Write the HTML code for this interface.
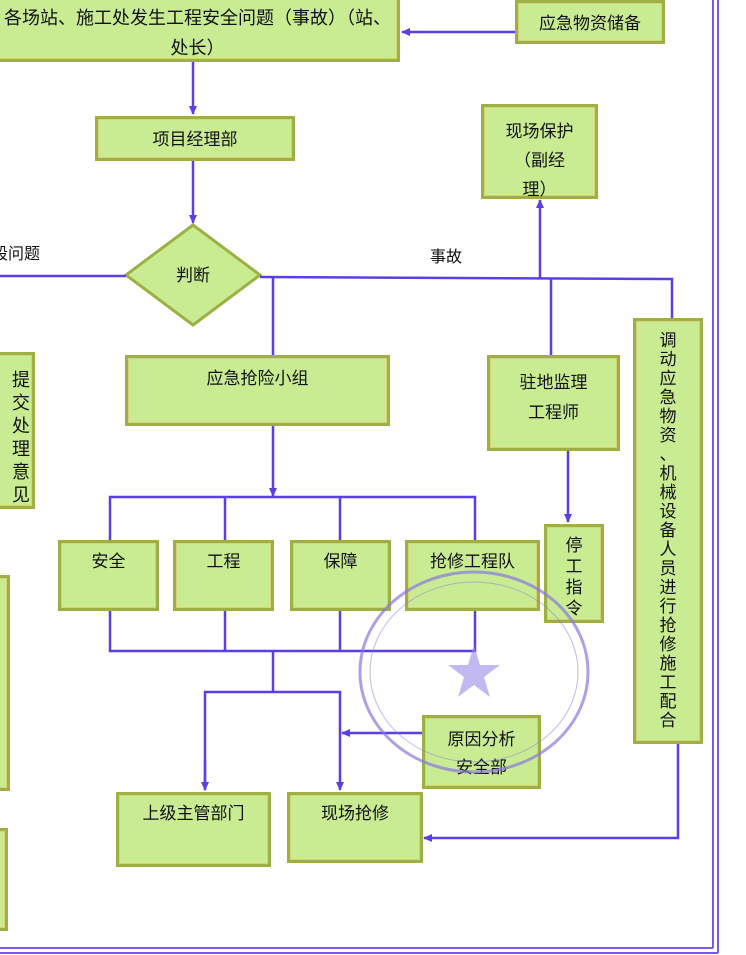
<!DOCTYPE html>
<html><head><meta charset="utf-8"><style>
body{margin:0;width:746px;height:955px;background:#fff;position:relative;overflow:hidden;font-family:"Liberation Sans","Noto Sans CJK SC",sans-serif;}
.b{position:absolute;background:#c9ec93;border:3px solid #9db043;box-sizing:border-box;box-shadow:inset 0 0 0 1px #d9d27a;color:#111;font-size:17px;text-align:center;line-height:26px;}
.t{position:absolute;font-size:16px;color:#111;}
svg{position:absolute;left:0;top:0}
</style></head><body>
<div class="b" style="left:-5px;top:-8px;width:405px;height:70px;padding-top:8px;line-height:30px;font-size:18px">各场站、施工处发生工程安全问题（事故）（站、<br>处长）</div>
<div class="b" style="left:515px;top:0;width:150px;height:44px;padding-top:8px">应急物资储备</div>
<div class="b" style="left:95px;top:116px;width:200px;height:45px;padding-top:8px">项目经理部</div>
<div class="b" style="left:481px;top:104px;width:117px;height:95px;padding-top:10px;line-height:29px">现场保护<br>（副经<br>理）</div>
<div class="b" style="left:125px;top:355px;width:265px;height:71px;padding-top:8px">应急抢险小组</div>
<div class="b" style="left:487px;top:355px;width:133px;height:96px;padding-top:10px;line-height:30px">驻地监理<br>工程师</div>
<div class="b" style="left:-5px;top:352px;width:40px;height:157px;padding-top:14px;line-height:23px;font-size:18px;text-align:right;padding-right:2px">提<br>交<br>处<br>理<br>意<br>见</div>
<div class="b" style="left:-5px;top:575px;width:15px;height:216px"></div>
<div class="b" style="left:-5px;top:828px;width:13px;height:103px"></div>
<div class="b" style="left:633px;top:318px;width:70px;height:426px;padding-top:10px;line-height:19px;font-size:17px">调<br>动<br>应<br>急<br>物<br>资<br>、<br>机<br>械<br>设<br>备<br>人<br>员<br>进<br>行<br>抢<br>修<br>施<br>工<br>配<br>合</div>
<div class="b" style="left:58px;top:540px;width:101px;height:71px;padding-top:6px">安全</div>
<div class="b" style="left:173px;top:540px;width:101px;height:71px;padding-top:6px">工程</div>
<div class="b" style="left:290px;top:540px;width:101px;height:71px;padding-top:6px">保障</div>
<div class="b" style="left:405px;top:540px;width:135px;height:71px;padding-top:6px">抢修工程队</div>
<div class="b" style="left:544px;top:524px;width:60px;height:99px;padding-top:8px;line-height:21px">停<br>工<br>指<br>令</div>
<div class="b" style="left:422px;top:715px;width:119px;height:74px;padding-top:8px;line-height:28px">原因分析<br>安全部</div>
<div class="b" style="left:116px;top:792px;width:155px;height:75px;padding-top:6px">上级主管部门</div>
<div class="b" style="left:287px;top:792px;width:136px;height:71px;padding-top:6px">现场抢修</div>
<div class="t" style="left:-8px;top:240px">段问题</div>
<div class="t" style="left:430px;top:243px">事故</div>
<svg width="746" height="955">
<defs><marker id="a" markerWidth="10" markerHeight="10" refX="8" refY="5" orient="auto" markerUnits="userSpaceOnUse"><path d="M0,1 L9,5 L0,9 Z" fill="#5a3fe6"/></marker></defs>
<g stroke="#5a3fe6" stroke-width="2.5" fill="none">
<polygon points="193,225 260,275 193,325 126,275" fill="#c9ec93" stroke="#9db043" stroke-width="3"/>
<line x1="515" y1="32" x2="402" y2="32" marker-end="url(#a)"/>
<line x1="193" y1="62" x2="193" y2="114" marker-end="url(#a)"/>
<line x1="193" y1="161" x2="193" y2="223" marker-end="url(#a)"/>
<line x1="0" y1="276" x2="126" y2="276"/>
<polyline points="260,277 672,279 672,318"/>
<line x1="273" y1="277" x2="273" y2="355"/>
<line x1="551" y1="278" x2="551" y2="355"/>
<line x1="540" y1="278" x2="540" y2="200" marker-end="url(#a)"/>
<line x1="273" y1="426" x2="273" y2="496" marker-end="url(#a)"/>
<polyline points="110,540 110,497 475,497 475,540"/>
<line x1="225" y1="497" x2="225" y2="540"/><line x1="340" y1="497" x2="340" y2="540"/>
<line x1="568" y1="451" x2="568" y2="522" marker-end="url(#a)"/>
<polyline points="110,611 110,651 475,651 475,611"/>
<line x1="225" y1="611" x2="225" y2="651"/><line x1="340" y1="611" x2="340" y2="651"/>
<line x1="273" y1="651" x2="273" y2="692"/>
<polyline points="205,790 205,692 340,692 340,790" marker-end="url(#a)"/>
<line x1="205" y1="760" x2="205" y2="790" marker-end="url(#a)"/>
<line x1="422" y1="733" x2="342" y2="733" marker-end="url(#a)"/>
<polyline points="678,744 678,838 424,838" marker-end="url(#a)"/>
</g>
<text x="193" y="281" text-anchor="middle" font-size="17" fill="#111" font-family="Liberation Sans, Noto Sans CJK SC, sans-serif">判断</text>
<g stroke="#7a5be8" fill="none">
<line x1="713" y1="0" x2="713" y2="948" stroke-width="2"/><line x1="718" y1="0" x2="718" y2="953" stroke-width="2"/>
<line x1="0" y1="948" x2="713" y2="948" stroke-width="2"/><line x1="0" y1="953" x2="718" y2="953" stroke-width="2"/>
<ellipse cx="474" cy="672" rx="114" ry="100" stroke="#8a78e0" stroke-width="3" opacity="0.7"/>
<ellipse cx="474" cy="672" rx="104" ry="90" stroke="#8a78e0" stroke-width="1" opacity="0.5"/>
<polygon points="474,645 480,665 500,665 484,677 490,697 474,685 458,697 464,677 448,665 468,665" fill="#9a8ae6" stroke="none" opacity="0.6"/>
</g>
</svg>
</body></html>
